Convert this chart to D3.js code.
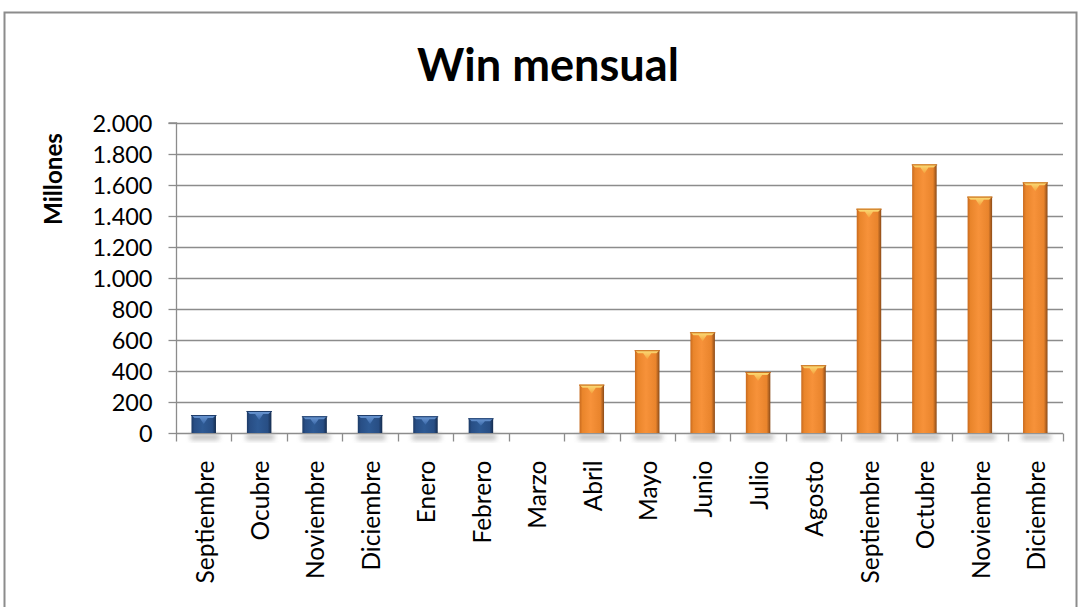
<!DOCTYPE html>
<html>
<head>
<meta charset="utf-8">
<script src="https://cdn.jsdelivr.net/npm/d3@7"></script>
<style>
  html, body { margin: 0; padding: 0; background: #fff; }
  svg { display: block; }
</style>
</head>
<body>
<script>
// ---- data ----
const categories = ["Septiembre","Ocubre","Noviembre","Diciembre","Enero","Febrero","Marzo","Abril","Mayo","Junio","Julio","Agosto","Septiembre","Octubre","Noviembre","Diciembre"];
const values = [116, 142, 108, 116, 108, 95, 0, 312, 534, 650, 394, 437, 1447, 1733, 1525, 1617];
const seriesGroup = ["blue","blue","blue","blue","blue","blue","blue","orange","orange","orange","orange","orange","orange","orange","orange","orange"];
const yTicks = [0, 200, 400, 600, 800, 1000, 1200, 1400, 1600, 1800, 2000];
const titleText = "Win mensual";
const yAxisTitle = "Millones";

const W = 1081, H = 607;
const margin = { left: 176, right: 1063, top: 123, bottom: 433 };
const fontFam = "Lato, 'Open Sans', 'Noto Sans', sans-serif";

const svg = d3.select("body").append("svg").attr("width", W).attr("height", H);
const defs = svg.append("defs");

function fitSize(text, weight, target, base) {
  const t = svg.append("text").attr("font-family", fontFam).attr("font-weight", weight)
    .attr("font-size", base).text(text);
  const l = t.node().getComputedTextLength();
  t.remove();
  return l > 0 ? base * target / l : base;
}
const xLabelSize = fitSize("Septiembre", "normal", 123, 20);
const yLabelSize = fitSize("2.000", "normal", 60, 20);
const yTitleSize = fitSize(yAxisTitle, "bold", 92, 20);
const titleSize = fitSize(titleText, "bold", 262, 38);

function hGrad(id, stops) {
  const g = defs.append("linearGradient").attr("id", id).attr("x1", "0%").attr("x2", "100%").attr("y1", "0%").attr("y2", "0%");
  stops.forEach(s => g.append("stop").attr("offset", s[0]).attr("stop-color", s[1]));
}
function vGrad(id, stops) {
  const g = defs.append("linearGradient").attr("id", id).attr("x1", "0%").attr("x2", "0%").attr("y1", "0%").attr("y2", "100%");
  stops.forEach(s => g.append("stop").attr("offset", s[0]).attr("stop-color", s[1]));
}
hGrad("bodyOrange", [["0%", "#c86a1e"], ["12%", "#e9852b"], ["45%", "#f7923a"], ["85%", "#e9842c"], ["100%", "#8a4a18"]]);
hGrad("bodyBlue", [["0%", "#1c3a66"], ["12%", "#284e85"], ["45%", "#2e5a94"], ["85%", "#284e84"], ["100%", "#152c4e"]]);
vGrad("topOrange", [["0%", "#fbe07a"], ["100%", "#f5a13d"]]);
vGrad("topBlue", [["0%", "#6f9bd6"], ["100%", "#3a68a8"]]);
const f = defs.append("filter").attr("id", "shadow").attr("x", "-50%").attr("y", "-50%").attr("width", "200%").attr("height", "200%");
f.append("feGaussianBlur").attr("stdDeviation", 2.5);

// chart frame
svg.append("rect").attr("x", 4.5).attr("y", 12.5).attr("width", 1072).attr("height", 620)
  .attr("fill", "#fff").attr("stroke", "#8c8c8c").attr("stroke-width", 2);

// scales
const x = d3.scaleBand().domain(d3.range(categories.length)).range([margin.left, margin.right]).paddingInner(0).paddingOuter(0);
const y = d3.scaleLinear().domain([0, 2000]).range([margin.bottom, margin.top]);

// gridlines
svg.append("g").selectAll("line").data(yTicks.filter(d => d > 0)).join("line")
  .attr("x1", margin.left).attr("x2", margin.right)
  .attr("y1", d => Math.round(y(d)) + 0.5).attr("y2", d => Math.round(y(d)) + 0.5)
  .attr("stroke", "#8c8c8c").attr("stroke-width", 1.3);

// y axis
const yAxis = d3.axisLeft(y).tickValues(yTicks).tickSize(8).tickPadding(16)
  .tickFormat(d => d3.format(",")(d).replace(/,/g, "."));
const gy = svg.append("g").attr("transform", `translate(${margin.left + 0.5},0)`).call(yAxis);
gy.select(".domain").attr("stroke", "#8c8c8c").attr("stroke-width", 1.3).attr("d", `M-8,${margin.top}H0V${margin.bottom}`);
gy.selectAll(".tick line").attr("stroke", "#8c8c8c").attr("stroke-width", 1.3);
gy.selectAll(".tick text").attr("font-family", fontFam).attr("font-size", yLabelSize).attr("fill", "#000").attr("dy", "0.36em");

// x axis
const gx = svg.append("g").attr("transform", `translate(0,${margin.bottom + 0.5})`);
gx.append("line").attr("x1", margin.left).attr("x2", margin.right).attr("stroke", "#8c8c8c").attr("stroke-width", 1.3);
const tickPos = d3.range(categories.length + 1).map(i => margin.left + i * x.step());
gx.selectAll("line.tk").data(tickPos).join("line").attr("class", "tk")
  .attr("x1", d => Math.round(d) + 0.5).attr("x2", d => Math.round(d) + 0.5).attr("y1", 0).attr("y2", 8)
  .attr("stroke", "#8c8c8c").attr("stroke-width", 1.3);
gx.selectAll("text").data(categories).join("text")
  .attr("transform", (d, i) => `translate(${x(i) + x.bandwidth() / 2 + 1},${27}) rotate(-90)`)
  .attr("text-anchor", "end").attr("dy", "0.36em")
  .attr("font-family", fontFam).attr("font-size", xLabelSize).attr("fill", "#000")
  .text(d => d);

// bars
const barW = 24.5;
const bars = svg.append("g").selectAll("g").data(values.map((v, i) => ({ v, i, g: seriesGroup[i] })).filter(d => d.v > 0)).join("g");
bars.append("rect")
  .attr("x", d => x(d.i) + x.bandwidth() / 2 - barW / 2 - 1)
  .attr("y", margin.bottom + 1)
  .attr("width", barW + 4).attr("height", 6)
  .attr("fill", "#a8a8a8").attr("filter", "url(#shadow)").attr("opacity", 0.75);
bars.append("rect")
  .attr("x", d => x(d.i) + x.bandwidth() / 2 - barW / 2)
  .attr("y", d => y(d.v))
  .attr("width", barW)
  .attr("height", d => margin.bottom - y(d.v))
  .attr("fill", d => d.g === "orange" ? "url(#bodyOrange)" : "url(#bodyBlue)");
bars.append("path")
  .attr("d", d => {
    const x0 = x(d.i) + x.bandwidth() / 2 - barW / 2, x1 = x0 + barW, t = y(d.v);
    const depth = Math.min(9, (margin.bottom - t) / 2);
    const cx = (x0 + x1) / 2;
    return `M${x0},${t}L${x1},${t}L${x1 - 3},${t + 3}L${cx + 4},${t + 3}L${cx},${t + depth}L${cx - 4},${t + 3}L${x0 + 3},${t + 3}Z`;
  })
  .attr("fill", d => d.g === "orange" ? "url(#topOrange)" : "url(#topBlue)");
bars.append("line")
  .attr("x1", d => x(d.i) + x.bandwidth() / 2 - barW / 2 - 0.5)
  .attr("x2", d => x(d.i) + x.bandwidth() / 2 + barW / 2 + 0.5)
  .attr("y1", d => y(d.v) + 0.5).attr("y2", d => y(d.v) + 0.5)
  .attr("stroke", d => d.g === "orange" ? "#c66a1a" : "#1f3d6a").attr("stroke-width", 1);

// title
svg.append("text").attr("x", 548).attr("y", 81).attr("text-anchor", "middle")
  .attr("font-family", fontFam).attr("font-weight", "bold").attr("font-size", titleSize).attr("fill", "#000")
  .text(titleText);

// y axis title
svg.append("text").attr("transform", "translate(53,179) rotate(-90)").attr("text-anchor", "middle").attr("dy", "0.36em")
  .attr("font-family", fontFam).attr("font-weight", "bold").attr("font-size", yTitleSize).attr("fill", "#000")
  .text(yAxisTitle);
</script>
</body>
</html>
